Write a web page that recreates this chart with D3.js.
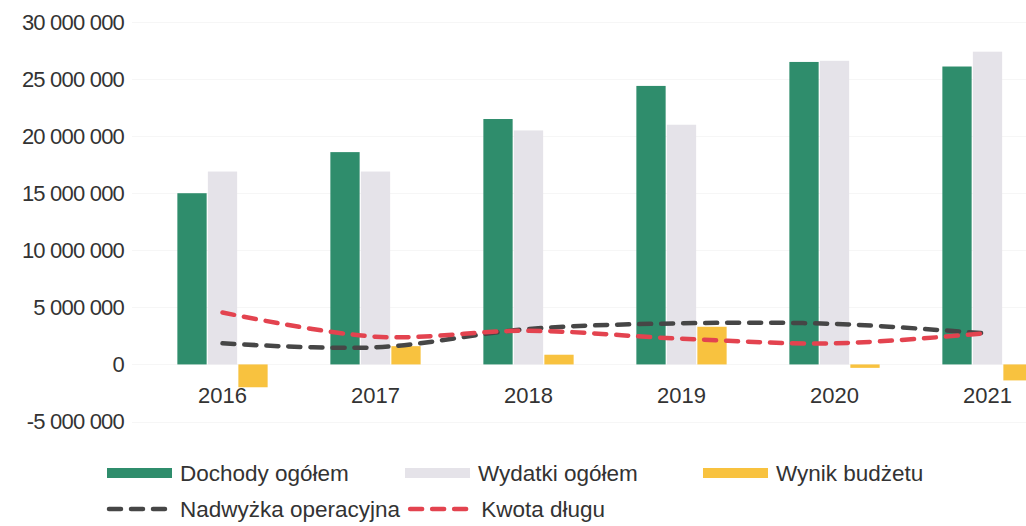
<!DOCTYPE html>
<html>
<head>
<meta charset="utf-8">
<script src="https://cdn.jsdelivr.net/npm/d3@7"></script>
<style>
  html, body { margin: 0; padding: 0; background: #ffffff; overflow: hidden; }
  svg { display: block; font-family: "Liberation Sans", Arial, sans-serif; }
</style>
</head>
<body>
<svg id="chart" width="1026" height="526"></svg>
<script>
// ---- data ----
const years = ["2016", "2017", "2018", "2019", "2020", "2021"];
const dochody = [15000000, 18600000, 21500000, 24400000, 26500000, 26100000];
const wydatki = [16900000, 16900000, 20500000, 21000000, 26600000, 27400000];
const wynik = [-2000000, 1600000, 850000, 3300000, -300000, -1400000];
const nadwyzka = [1850000, 1500000, 3100000, 3600000, 3550000, 2700000];
const kwota = [4550000, 2430000, 2950000, 2250000, 1850000, 2750000];
const yTicks = [-5000000, 0, 5000000, 10000000, 15000000, 20000000, 25000000, 30000000];
const barSeries = ["Dochody ogółem", "Wydatki ogółem", "Wynik budżetu"];
const lineSeries = ["Nadwyżka operacyjna", "Kwota długu"];

const colors = {
  "Dochody ogółem": "#2f8d6c",
  "Wydatki ogółem": "#e5e3e9",
  "Wynik budżetu": "#f8c23f",
  "Nadwyżka operacyjna": "#464646",
  "Kwota długu": "#e3434f"
};

const svg = d3.select("#chart");

const x = d3.scaleBand().domain(years).range([146, 1064]).paddingInner(0.41).paddingOuter(0.205);
const xs = d3.scaleBand().domain(barSeries).range([0, x.bandwidth()]).paddingInner(0.04);
const y = d3.scaleLinear().domain([-5000000, 30000000]).range([421.5, 22]);

const fmt = v => d3.format(",")(v).replace(/,/g, " ").replace("−", "-");

// gridlines
svg.append("g").selectAll("line").data(yTicks).join("line")
  .attr("x1", 132).attr("x2", 1026)
  .attr("y1", d => Math.round(y(d)) + 0.5).attr("y2", d => Math.round(y(d)) + 0.5)
  .attr("stroke", "#f6f6f6").attr("stroke-width", 1);

// y axis labels
const yAxis = d3.axisLeft(y).tickValues(yTicks).tickFormat(fmt).tickSize(0).tickPadding(0);
const ya = svg.append("g").attr("transform", "translate(124,0)").call(yAxis);
ya.select(".domain").remove();
ya.selectAll("text")
  .attr("font-size", 22).attr("fill", "#333")
  .attr("letter-spacing", "-0.8px")
  .attr("font-family", "Liberation Sans, Arial, sans-serif");

// bars
const data = years.map((yr, i) => ({
  year: yr,
  vals: [
    { key: barSeries[0], v: dochody[i] },
    { key: barSeries[1], v: wydatki[i] },
    { key: barSeries[2], v: wynik[i] }
  ]
}));

svg.append("g").selectAll("g").data(data).join("g")
  .attr("transform", d => `translate(${x(d.year)},0)`)
  .selectAll("rect").data(d => d.vals).join("rect")
  .attr("x", d => xs(d.key))
  .attr("width", xs.bandwidth())
  .attr("y", d => y(Math.max(0, d.v)))
  .attr("height", d => Math.abs(y(d.v) - y(0)))
  .attr("fill", d => colors[d.key]);

// x axis labels
const xAxis = d3.axisBottom(x).tickSize(0).tickPadding(0);
const xa = svg.append("g").attr("transform", "translate(0,386)").call(xAxis);
xa.select(".domain").remove();
xa.selectAll("text")
  .attr("font-size", 22).attr("fill", "#333")
  .attr("dy", "0.75em")
  .attr("font-family", "Liberation Sans, Arial, sans-serif");

// lines
const lineGen = d3.line()
  .x((d, i) => x(years[i]) + x.bandwidth() / 2)
  .y(d => y(d))
  .curve(d3.curveCatmullRom.alpha(0.5));

[[lineSeries[0], nadwyzka], [lineSeries[1], kwota]].forEach(([name, vals]) => {
  svg.append("path")
    .datum(vals)
    .attr("d", lineGen)
    .attr("fill", "none")
    .attr("stroke", colors[name])
    .attr("stroke-width", 4.5)
    .attr("stroke-dasharray", "12 10")
    .attr("stroke-linecap", "round");
});

// legend
const legend = svg.append("g").attr("font-size", 22.5).attr("fill", "#333");
const row1Y = 473, row2Y = 509;
barSeries.forEach((name, i) => {
  const lx = 107 + i * 298;
  legend.append("rect").attr("x", lx).attr("y", row1Y - 5).attr("width", 65).attr("height", 10)
    .attr("fill", colors[name]);
  legend.append("text").attr("x", lx + 73).attr("y", row1Y).attr("dy", "0.35em").text(name);
});
let cx = 107;
lineSeries.forEach((name) => {
  legend.append("line").attr("x1", cx + 2).attr("x2", cx + 63)
    .attr("y1", row2Y).attr("y2", row2Y)
    .attr("stroke", colors[name]).attr("stroke-width", 4.5)
    .attr("stroke-dasharray", "12 10").attr("stroke-linecap", "round");
  const t = legend.append("text").attr("x", cx + 73).attr("y", row2Y).attr("dy", "0.35em").text(name);
  cx = cx + 73 + t.node().getComputedTextLength() + 8;
});
</script>
</body>
</html>
